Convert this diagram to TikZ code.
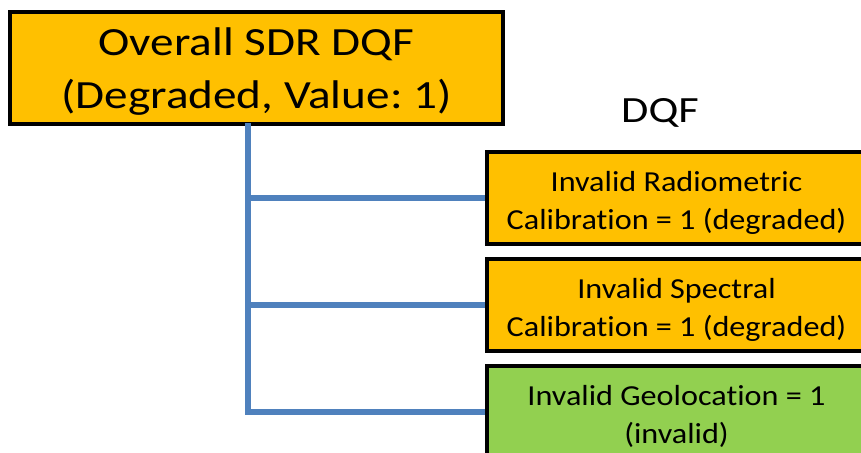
\documentclass[tikz,border=0pt]{standalone}
\usepackage{fontspec}
\setmainfont[Ligatures=NoCommon]{Carlito}
\newfontfamily\topfont[Ligatures=NoCommon,FakeStretch=1.18]{Carlito}
\newfontfamily\boxfont[Ligatures=NoCommon,FakeStretch=1.11]{Carlito}
\newfontfamily\dqffont[Ligatures=NoCommon,FakeStretch=1.2]{Carlito}
\newcommand{\boxtopstrut}{\rule{0pt}{36.6pt}}
\newcommand{\titletopstrut}{\rule{0pt}{43.1pt}}
\definecolor{boxorange}{HTML}{FFC000}
\definecolor{boxgreen}{HTML}{92D050}
\definecolor{connblue}{HTML}{4F81BD}
\begin{document}
\begin{tikzpicture}[x=1pt,y=-1pt,
  flagbox/.style={draw=black, line width=4pt, rectangle, align=center, inner sep=0pt, text=black},
  subbox/.style={flagbox, minimum width=379pt, minimum height=92pt, font=\boxfont\fontsize{29}{38}\selectfont\frenchspacing},
  conn/.style={draw=connblue, line width=6pt}]
\useasboundingbox (0,0) rectangle (861,452);
\clip (0,0) rectangle (861,452);
\fill[white] (0,0) rectangle (861,452);
\node[flagbox, fill=boxorange, minimum width=493pt, minimum height=106pt,
  font=\topfont\fontsize{40}{53}\selectfont\frenchspacing] (top) at (256.5,68) {\titletopstrut Overall SDR DQF\\(Degraded, Value: 1)\strut};
\node[font=\dqffont\fontsize{37}{44}\selectfont] (dqf) at (660,113) {DQF};
\node[subbox, fill=boxorange] (b1) at (676.5,198) {\boxtopstrut Invalid Radiometric\\Calibration = 1 (degraded)\strut};
\node[subbox, fill=boxorange] (b2) at (676.5,305) {\boxtopstrut Invalid Spectral\\Calibration = 1 (degraded)\strut};
\node[subbox, fill=boxgreen] (b3) at (676.5,412) {\boxtopstrut Invalid Geolocation = 1\\(invalid)\strut};
\coordinate (trunk) at (248,123);
\draw[conn] (trunk) |- (b3.west);
\draw[conn] (trunk |- b1.west) -- (b1.west);
\draw[conn] (trunk |- b2.west) -- (b2.west);
\end{tikzpicture}
\end{document}
